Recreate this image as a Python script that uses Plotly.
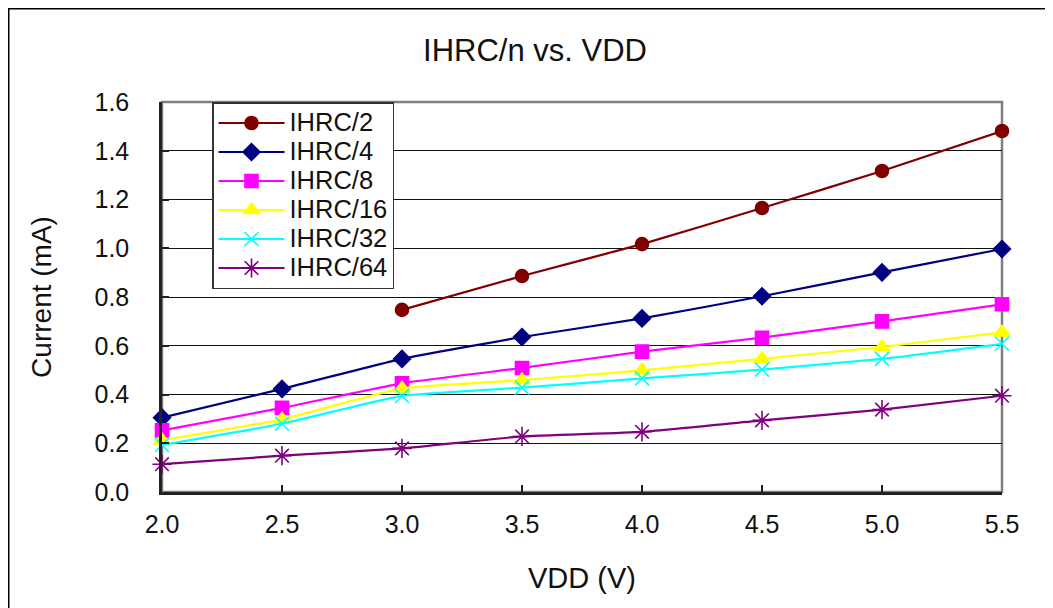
import plotly.graph_objects as go

vdd = [2.0, 2.5, 3.0, 3.5, 4.0, 4.5, 5.0, 5.5]
ihrc2 = [None, None, 0.747, 0.886, 1.017, 1.165, 1.317, 1.481]
ihrc4 = [0.305, 0.423, 0.546, 0.636, 0.712, 0.803, 0.901, 0.997]
ihrc8 = [0.253, 0.345, 0.446, 0.509, 0.576, 0.633, 0.700, 0.770]
ihrc16 = [0.212, 0.298, 0.425, 0.459, 0.499, 0.546, 0.595, 0.655]
ihrc32 = [0.193, 0.280, 0.394, 0.428, 0.466, 0.502, 0.546, 0.608]
ihrc64 = [0.114, 0.149, 0.179, 0.228, 0.247, 0.294, 0.338, 0.395]
names = ["IHRC/2", "IHRC/4", "IHRC/8", "IHRC/16", "IHRC/32", "IHRC/64"]
x_ticktext = ["2.0", "2.5", "3.0", "3.5", "4.0", "4.5", "5.0", "5.5"]
y_tickvals = [0, 0.2, 0.4, 0.6, 0.8, 1.0, 1.2, 1.4, 1.6]
y_ticktext = ["0.0", "0.2", "0.4", "0.6", "0.8", "1.0", "1.2", "1.4", "1.6"]

series = [ihrc2, ihrc4, ihrc8, ihrc16, ihrc32, ihrc64]
colors = ["#800000", "#000080", "#FF00FF", "#FFFF00", "#00FFFF", "#800080"]
symbols = ["circle", "diamond", "square", "triangle-up", "x-thin-open", "asterisk-open"]
msizes = [13, 13, 13, 14, 14, 16]

FONT = "Liberation Sans, Arial, sans-serif"
TXT = "#111111"

# geometry (figure pixels; the page adds an 8px body margin)
L, T, PW, PH = 154, 94, 840, 390
W, H = 1045, 600

fig = go.Figure()
for name, ys, c, s, ms in zip(names, series, colors, symbols, msizes):
    fig.add_trace(go.Scatter(
        x=vdd, y=ys, name='<span style="font-size:25.5px">' + name + '</span>',
        mode="lines+markers",
        line=dict(color=c, width=2.2, shape="spline", smoothing=0.4),
        marker=dict(symbol=s, size=ms, color=c, line=dict(color=c, width=1.6)),
        cliponaxis=False, connectgaps=False,
    ))

# outer chart border
fig.add_shape(type="rect", xref="paper", yref="paper",
              x0=(0.5 - L) / PW, x1=(W + 30 - L) / PW,
              y0=(T + PH - (H + 30)) / PH, y1=(T + PH - 0.5) / PH,
              line=dict(color="black", width=2), fillcolor="rgba(0,0,0,0)", layer="below")
# plot-area frame (grey)
fig.add_shape(type="rect", xref="paper", yref="paper", x0=0, x1=1, y0=0, y1=1,
              line=dict(color="#808080", width=2.5), fillcolor="rgba(0,0,0,0)", layer="between")

fig.update_layout(
    width=W, height=H,
    margin=dict(l=L, r=W - L - PW, t=T, b=H - T - PH),
    paper_bgcolor="white", plot_bgcolor="white",
    font=dict(family=FONT, color=TXT),
    title=dict(text="IHRC/n vs. VDD", x=(535 - 8) / W, xanchor="center",
               y=1 - 42 / H, yanchor="middle",
               font=dict(size=31, family=FONT, color=TXT)),
    showlegend=True,
    legend=dict(x=(212 - 8 - L) / PW, y=1.0, xanchor="left", yanchor="top",
                bgcolor="white", bordercolor="#333333", borderwidth=1.5,
                font=dict(size=20, family=FONT, color=TXT),
                tracegroupgap=0, itemwidth=66),
    xaxis=dict(range=[2.0, 5.5], tickvals=vdd, ticktext=x_ticktext,
               showgrid=False, zeroline=False, showline=True, linecolor="#222222", linewidth=2.5,
               ticks="inside", ticklen=7, tickwidth=1.5, tickcolor="#222222",
               tickfont=dict(size=25, family=FONT, color=TXT), ticklabelstandoff=8,
               title=dict(text="VDD (V)", font=dict(size=29, family=FONT, color=TXT), standoff=31)),
    yaxis=dict(range=[0, 1.6], tickvals=y_tickvals, ticktext=y_ticktext,
               showgrid=True, gridcolor="#111111", gridwidth=1.2, zeroline=False,
               showline=True, linecolor="#222222", linewidth=2.5,
               ticks="inside", ticklen=7, tickwidth=1.5, tickcolor="#222222",
               tickfont=dict(size=25, family=FONT, color=TXT), ticklabelstandoff=25,
               title=dict(text="Current (mA)", font=dict(size=28, family=FONT, color=TXT), standoff=35)),
)

fig.write_html("out.html")
